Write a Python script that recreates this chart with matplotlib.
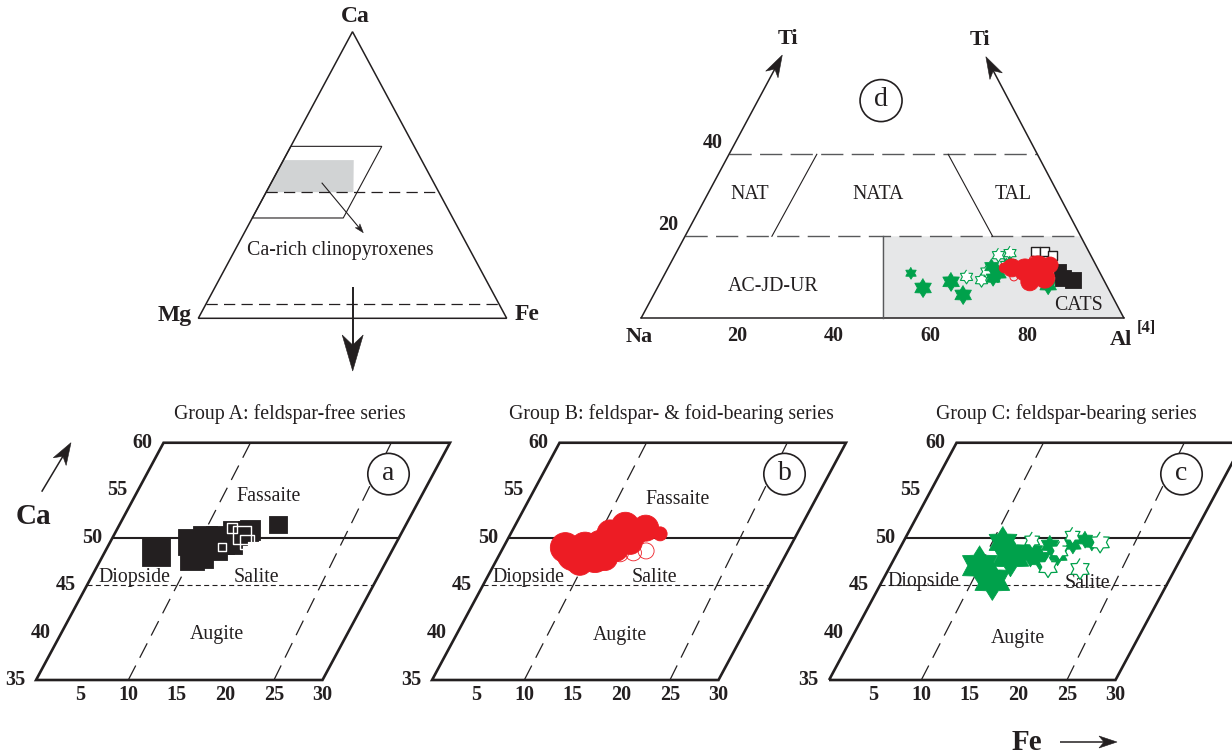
"""Clinopyroxene classification: Ca-Mg-Fe overview, Ti - Na - Al(IV) plot
and the Ca vs Fe quadrilaterals for the three rock groups."""
import numpy as np
import matplotlib
matplotlib.use("Agg")
import matplotlib.pyplot as plt
from matplotlib.patches import Polygon, Circle
from matplotlib.transforms import Affine2D

# ---- Group A, feldspar-free series (Fe, Ca in at.%)
A_FE = [5.8, 8.8, 9.8, 10.0, 10.45, 11.6, 11.7, 12.9, 12.8, 14.1, 14.2, 16.8]
A_CA = [48.45, 49.5, 47.9, 50.0, 48.2, 48.95, 49.7, 49.5, 50.5, 50.7, 50.85, 51.4]
A_SIZE = [28, 26, 24, 24, 26, 24, 28, 24, 24, 20, 20, 17.5]
A_FE_OPEN = [13.7, 14.6, 12.3, 12.3]
A_CA_OPEN = [50.3, 49.5, 49.0, 51.0]
A_SIZE_OPEN = [18, 14, 8, 10]

# ---- Group B, feldspar- & foid-bearing series
B_FE = [8.1, 6.9, 8.9, 10.4, 10.5, 11.2, 12.0, 10.7, 11.9, 13.2, 14.1, 15.9, 9.2, 13.3, 11.5]
B_CA = [48.2, 48.95, 49.0, 49.2, 47.9, 50.0, 48.95, 50.5, 51.2, 50.5, 51.0, 50.4, 47.4, 49.5, 47.9]
B_SIZE = [32, 30, 30, 30, 30, 28, 28, 26, 28, 26, 26, 14, 26, 24, 26]
B_FE_OPEN = [12.9, 14.2, 15.4]
B_CA_OPEN = [48.3, 48.4, 48.6]
B_SIZE_OPEN = [16, 16, 16]

# ---- Group C, feldspar-bearing series
C_FE = [9.7, 11.8, 12.3, 10.8, 14.2, 15.5, 15.8, 18.1, 19.1, 20.0, 17.1]
C_CA = [47.05, 45.5, 48.1, 49.5, 48.4, 47.8, 49.2, 49.3, 49.8, 49.4, 48.2]
C_SIZE = [40, 40, 42, 32, 28, 24, 20, 19, 17, 15, 22]
C_FE_OPEN = [16.8, 20.2, 20.8, 17.6, 13.7, 17.1]
C_CA_OPEN = [46.9, 46.7, 49.5, 50.2, 49.7, 48.6]
C_SIZE_OPEN = [21, 21, 21, 17, 17, 19]

# ---- Ti vs Na-Al(IV) plot (x: Al(IV) share of Na+Al(IV), y: Ti)
D_GREEN_X = [55.9, 58.4, 64.2, 66.7, 72.6, 73.9, 72.9, 76.4, 84.3]
D_GREEN_TI = [11.0, 7.4, 8.9, 5.7, 12.6, 11.0, 9.8, 13.5, 8.1]
D_GREEN_SIZE = [12, 19, 19, 19, 16, 19, 16, 14, 19]
D_GREEN_OPEN_X = [67.4, 70.5, 74.0, 76.4, 75.7, 71.6]
D_GREEN_OPEN_TI = [10.1, 9.3, 15.4, 15.9, 13.0, 11.4]
D_RED_X = [76.8, 79.5, 82.2, 83.6, 80.5, 84.7, 75.2]
D_RED_TI = [12.3, 11.8, 12.3, 9.8, 8.9, 13.0, 12.3]
D_RED_SIZE = [18, 22, 24, 20, 18, 16, 10]
D_RED_OPEN_X = [77.2, 81.2]
D_RED_OPEN_TI = [10.1, 14.2]
D_BLACK_X = [87.4, 89.4, 86.7]
D_BLACK_TI = [9.8, 9.3, 11.8]
D_BLACK_SIZE = [16, 16, 12]
D_BLACK_OPEN_X = [81.6, 83.6, 85.3]
D_BLACK_OPEN_TI = [16.2, 16.2, 15.4]

CA_TICKS = [60, 55, 50, 45, 40, 35]
FE_TICKS = [5, 10, 15, 20, 25, 30]
FE_GUIDE_BOTTOM = [10, 25]
FE_GUIDE_TOP = [9.45, 23.95]
D_TICKS = [20, 40, 60, 80]
D_TI_TICKS = [20, 40]

INK = "#231f20"
GREEN = "#00a14b"
RED = "#ed1c24"
SERIF = "Liberation Serif"
PT = 0.72  # points per pixel at 100 dpi

# quadrilateral geometry, pixels per at.%
FE_STEP, CA_STEP, CA_SKEW = 9.71, 9.49, 5.1
FE_LEFT = 0.5

plt.rcParams["font.family"] = SERIF
plt.rcParams["text.color"] = INK


def hexagram():
    ang = np.deg2rad(90 + 30 * np.arange(12))
    rad = np.where(np.arange(12) % 2 == 0, 1.0, 0.6)
    return list(zip(rad * np.cos(ang), rad * np.sin(ang)))


STAR = hexagram()


def quad_affine(shift):
    return Affine2D().from_values(FE_STEP, 0, CA_SKEW, -CA_STEP,
                                  31.2 + shift - CA_SKEW * 35, 680 + CA_STEP * 35)


def stealth(ax, tail, tip, length, width, lw=1.1):
    tail = np.asarray(tail, float)
    tip = np.asarray(tip, float)
    d = (tip - tail) / np.hypot(*(tip - tail))
    n = np.array([-d[1], d[0]])
    base = tip - d * length
    neck = tip - d * length * 0.6
    ax.plot([tail[0], neck[0]], [tail[1], neck[1]], color=INK, lw=lw, solid_capstyle="butt")
    ax.add_patch(Polygon([tip, base + n * width / 2, tip - d * length * 0.72, base - n * width / 2],
                         closed=True, fc=INK, ec=INK, lw=0.4))


def scatter(ax, x, y, tr, sizes, marker, face, edge, lw=0.6, z=5):
    s = (np.asarray(sizes, float) * PT) ** 2
    ax.scatter(x, y, s=s, marker=marker, c=face, edgecolors=edge, linewidths=lw,
               transform=tr, zorder=z)


def draw_quad(ax, shift, title, title_x, letter, names):
    aff = quad_affine(shift)
    tr = aff + ax.transData
    ax.add_patch(Polygon([(FE_LEFT, 35), (30, 35), (30, 60), (FE_LEFT, 60)], closed=True,
                         fill=False, ec=INK, lw=1.9, joinstyle="miter", transform=tr))
    ax.plot([FE_LEFT, 30], [50, 50], color=INK, lw=1.5, transform=tr)
    ax.plot([FE_LEFT, 30], [45, 45], color=INK, lw=0.8, ls=(0, (4.5, 3)), transform=tr)
    for fb, ft in zip(FE_GUIDE_BOTTOM, FE_GUIDE_TOP):
        ax.plot([fb, ft], [35, 60], color=INK, lw=0.9, ls=(0, (13, 7)), transform=tr)
    for v in CA_TICKS:
        ax.annotate(str(v), (FE_LEFT, v), xycoords=tr, xytext=(-15, 0), textcoords="offset points",
                    ha="center", va="center", fontsize=14.5, fontweight="bold")
    for v in FE_TICKS:
        ax.annotate(str(v), (v, 35), xycoords=tr, xytext=(0, -11), textcoords="offset points",
                    ha="center", va="center", fontsize=14.5, fontweight="bold")
    for name, fe, ca in names:
        ax.text(fe, ca, name, transform=tr, ha="center", va="center", fontsize=14.3)
    ax.text(title_x, 414, title, ha="center", va="center", fontsize=14.3)
    cx, cy = aff.transform((25.4, 56.7))
    ax.add_patch(Circle((cx, cy), 20.7, fc="white", ec=INK, lw=1.2, zorder=3))
    ax.text(cx, cy - 1, letter, ha="center", va="center", fontsize=20, zorder=4)
    return tr


fig = plt.figure(figsize=(12.32, 7.55), dpi=100)
ax = fig.add_axes([0, 0, 1, 1])
ax.set_xlim(0, 1232)
ax.set_ylim(755, 0)
ax.axis("off")

# ---- Ca-Mg-Fe triangle (Fe, Ca in %)
tri = Affine2D().from_values(3.084, 0, 1.542, -2.866, 198.3, 318.3) + ax.transData
ax.add_patch(Polygon([(0, 55.2), (22.8, 55.2), (28.3, 44), (0, 44)], closed=True,
                     fc="#d1d3d4", ec="none", transform=tri))
ax.add_patch(Polygon([(0, 0), (100, 0), (0, 100)], closed=True, fill=False, ec=INK,
                     lw=1.1, transform=tri))
ax.add_patch(Polygon([(0, 35), (29.5, 35), (29.5, 60), (0, 60)], closed=True, fill=False,
                     ec=INK, lw=0.8, transform=tri))
ax.plot([0, 95], [5, 5], color=INK, lw=0.9, ls=(0, (9, 5)), transform=tri)
ax.plot([0, 56], [44, 44], color=INK, lw=0.9, ls=(0, (9, 5)), transform=tri)
stealth(ax, (321.7, 182.7), (363.3, 232.7), 9, 6, lw=0.8)
ax.text(340.7, 251, "Ca-rich clinopyroxenes", ha="center", va="center", fontsize=14.3)
ax.text(355, 17, "Ca", ha="center", va="center", fontsize=17, fontweight="bold")
ax.text(175, 316, "Mg", ha="center", va="center", fontsize=17, fontweight="bold")
ax.text(527, 315, "Fe", ha="center", va="center", fontsize=17, fontweight="bold")
stealth(ax, (352.7, 287), (352.7, 371), 36, 21, lw=1.4)

# ---- Ti - Na - Al(IV) plot
d_aff = Affine2D().from_values(4.83, 0, 0, -4.1, 641, 318.3)
dtr = d_aff + ax.transData
L_SLOPE, R_SLOPE, TIP = 0.4556, 0.4483, 64.2
ax.add_patch(Polygon([(50, 0), (100, 0), (100 - R_SLOPE * 20, 20), (50, 20)], closed=True,
                     fc="#e6e7e8", ec="none", transform=dtr))
ax.plot([0, 100], [0, 0], color=INK, lw=1.1, transform=dtr)
ax.plot([50, 50], [0, 20], color="#58595b", lw=1.0, transform=dtr)
for ti in D_TI_TICKS:
    ax.plot([L_SLOPE * ti, 100 - R_SLOPE * ti], [ti, ti], color="#58595b", lw=1.0,
            ls=(0, (16, 6)), transform=dtr)
ax.plot([27.1, 36.4], [20, 40], color=INK, lw=0.8, transform=dtr)
ax.plot([72.8, 63.6], [20, 40], color=INK, lw=0.8, transform=dtr)
na, left_tip = d_aff.transform([(0, 0), (L_SLOPE * TIP, TIP)])
al, right_tip = d_aff.transform([(100, 0), (100 - R_SLOPE * (TIP - 0.4), TIP - 0.4)])
stealth(ax, na, left_tip, 22, 14)
stealth(ax, al, right_tip, 22, 14)
for name, x, ti in [("NAT", 22.6, 30.1), ("NATA", 49.1, 30.1), ("TAL", 77.1, 30.1),
                    ("AC-JD-UR", 27.4, 7.7), ("CATS", 90.5, 3.0)]:
    ax.text(x, ti, name, transform=dtr, ha="center", va="center", fontsize=14.3)
for v in D_TICKS:
    ax.annotate(str(v), (v, 0), xycoords=dtr, xytext=(0, -13), textcoords="offset points",
                ha="center", va="center", fontsize=14.5, fontweight="bold")
for v in D_TI_TICKS:
    ax.annotate(str(v), (L_SLOPE * v, v), xycoords=dtr, xytext=(-12, 8), textcoords="offset points",
                ha="center", va="center", fontsize=14.5, fontweight="bold")
dx, dy = d_aff.transform((49.7, 53.1))
ax.add_patch(Circle((dx, dy), 21, fc="white", ec=INK, lw=1.2))
ax.text(dx, dy - 1, "d", ha="center", va="center", fontsize=20)
ax.text(788, 39, "Ti", ha="center", va="center", fontsize=16, fontweight="bold")
ax.text(980, 40, "Ti", ha="center", va="center", fontsize=16, fontweight="bold")
ax.text(639, 337, "Na", ha="center", va="center", fontsize=16, fontweight="bold")
ax.text(1121, 340, "Al", ha="center", va="center", fontsize=16, fontweight="bold")
ax.text(1146, 328, "[4]", ha="center", va="center", fontsize=12, fontweight="bold")

scatter(ax, D_GREEN_OPEN_X, D_GREEN_OPEN_TI, dtr, [14] * len(D_GREEN_OPEN_X), STAR, "white", GREEN, lw=0.8)
scatter(ax, D_GREEN_X, D_GREEN_TI, dtr, D_GREEN_SIZE, STAR, GREEN, GREEN)
scatter(ax, D_BLACK_OPEN_X, D_BLACK_OPEN_TI, dtr, [9] * 3, "s", "white", INK, lw=1.0)
scatter(ax, D_BLACK_X, D_BLACK_TI, dtr, D_BLACK_SIZE, "s", INK, INK)
scatter(ax, D_RED_X, D_RED_TI, dtr, D_RED_SIZE, "o", RED, RED)
scatter(ax, D_RED_OPEN_X, D_RED_OPEN_TI, dtr, [8] * 2, "o", "none", RED, lw=0.7)

# ---- Ca vs Fe quadrilaterals
tr_a = draw_quad(ax, 0, "Group A: feldspar-free series", 290, "a",
                 [("Fassaite", 14.3, 54.3), ("Diopside", 5.0, 45.75),
                  ("Salite", 17.6, 45.75), ("Augite", 16.6, 39.75)])
tr_b = draw_quad(ax, 396, "Group B: feldspar- & foid-bearing series", 671, "b",
                 [("Fassaite", 15.8, 54.0), ("Diopside", 4.75, 45.75),
                  ("Salite", 17.8, 45.75), ("Augite", 17.4, 39.65)])
tr_c = draw_quad(ax, 793, "Group C: feldspar-bearing series", 1066, "c",
                 [("Diopside", 4.75, 45.35), ("Salite", 21.8, 45.2),
                  ("Augite", 17.6, 39.4)])

scatter(ax, A_FE, A_CA, tr_a, A_SIZE, "s", INK, INK)
scatter(ax, A_FE_OPEN, A_CA_OPEN, tr_a, A_SIZE_OPEN, "s", "none", "white", lw=1.0)
scatter(ax, B_FE, B_CA, tr_b, B_SIZE, "o", RED, RED)
scatter(ax, B_FE_OPEN, B_CA_OPEN, tr_b, B_SIZE_OPEN, "o", "none", RED, lw=0.6)
scatter(ax, C_FE, C_CA, tr_c, C_SIZE, STAR, GREEN, GREEN)
scatter(ax, C_FE_OPEN, C_CA_OPEN, tr_c, C_SIZE_OPEN, STAR, "white", GREEN, lw=0.9)

# axis names outside the panels
stealth(ax, (41.7, 491.7), (71, 442.7), 22, 15)
ax.text(33, 517, "Ca", ha="center", va="center", fontsize=21, fontweight="bold")
ax.text(1027, 742, "Fe", ha="center", va="center", fontsize=21, fontweight="bold")
stealth(ax, (1060, 742), (1117, 742), 18, 12)

fig.savefig("out.png", dpi=100)
